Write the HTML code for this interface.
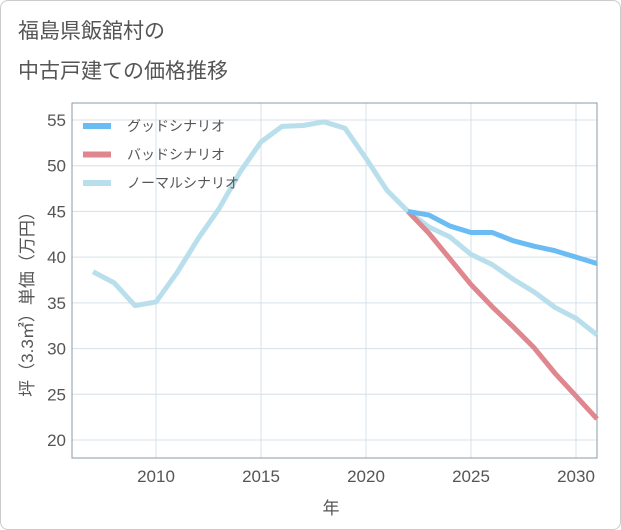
<!DOCTYPE html>
<html><head><meta charset="utf-8"><style>
body{margin:0;background:#fff;font-family:"Liberation Sans","Noto Sans CJK JP",sans-serif;}
#wrap{position:relative;width:619px;height:528px;border:1px solid #ccc;border-radius:8px;overflow:hidden;}
</style></head><body>
<div id="wrap">
<svg id="c" width="621" height="530" style="position:absolute;left:-1px;top:-1px"></svg>
</div>
<script>
const years=[2007,2008,2009,2010,2011,2012,2013,2014,2015,2016,2017,2018,2019,2020,2021,2022,2023,2024,2025,2026,2027,2028,2029,2030,2031];
const normal=[38.4,37.2,34.7,35.1,38.3,42,45.3,49.3,52.6,54.3,54.4,54.8,54.1,50.8,47.3,45,43.3,42.2,40.3,39.2,37.6,36.2,34.5,33.3,31.5];
const goodYears=[2022,2023,2024,2025,2026,2027,2028,2029,2030,2031];
const good=[45,44.6,43.4,42.7,42.7,41.8,41.2,40.7,40,39.3];
const bad=[45,42.6,39.8,37,34.6,32.4,30.1,27.3,24.8,22.3];
const yTicks=[20,25,30,35,40,45,50,55];
const xTicks=[2010,2015,2020,2025,2030];
const ns="http://www.w3.org/2000/svg";
const svg=document.getElementById('c');
const X=y=>156+(y-2010)*21;
const Y=v=>440-(v-20)*(320/35);
const L=72,R=597,T=103,B=458;
function mk(t,a,p){const e=document.createElementNS(ns,t);for(const k in a)e.setAttribute(k,a[k]);(p||svg).appendChild(e);return e;}
let e;
e=mk('text',{x:18,y:38,'font-size':21,fill:'#555'});e.textContent='福島県飯舘村の';


e=mk('text',{x:18,y:78,'font-size':21,fill:'#555'});e.textContent='中古戸建ての価格推移';


yTicks.forEach(v=>{
 e=mk('line',{x1:L,x2:R,y1:Y(v),y2:Y(v),stroke:'#d5e0ea','stroke-width':1});
 
 
 e=mk('text',{x:66,y:Y(v)+6,'font-size':17,fill:'#555','text-anchor':'end'});e.textContent=v;
 
 
});
xTicks.forEach(v=>{
 e=mk('line',{x1:X(v),x2:X(v),y1:T,y2:B,stroke:'#d5e0ea','stroke-width':1});
 
 
 e=mk('text',{x:X(v),y:482,'font-size':17,fill:'#555','text-anchor':'middle'});e.textContent=v;
 
 
});
e=mk('rect',{x:L,y:T,width:R-L,height:B-T,fill:'none',stroke:'#8a99a8','stroke-width':1});


function line(xs,vs,col,name){
 const d=xs.map((x,i)=>(i?'L':'M')+X(x)+','+Y(vs[i])).join('');
 const p=mk('path',{d:d,fill:'none',stroke:col,'stroke-width':5,'stroke-linejoin':'round'});
 
 
}
line(years,normal,'#b9dfec','normal-scenario-line');
line(goodYears,bad,'#e0868e','bad-scenario-line');
line(goodYears,good,'#6bbcf2','good-scenario-line');
const leg=[['グッドシナリオ','#6bbcf2'],['バッドシナリオ','#e0868e'],['ノーマルシナリオ','#b9dfec']];
leg.forEach((l,i)=>{
 const y=126+i*28.5;
 e=mk('line',{x1:83,x2:111,y1:y,y2:y,stroke:l[1],'stroke-width':6});
 
 
 e=mk('text',{x:127,y:y+5,'font-size':14,fill:'#555'});e.textContent=l[0];
 
 
});
e=mk('text',{x:331,y:514,'font-size':17,fill:'#555','text-anchor':'middle'});e.textContent='年';


e=mk('text',{x:0,y:0,'font-size':17,fill:'#555','text-anchor':'middle',transform:'translate(33,300) rotate(-90)'});e.textContent='坪（3.3㎡）単価（万円）';


</script>
</body></html>
